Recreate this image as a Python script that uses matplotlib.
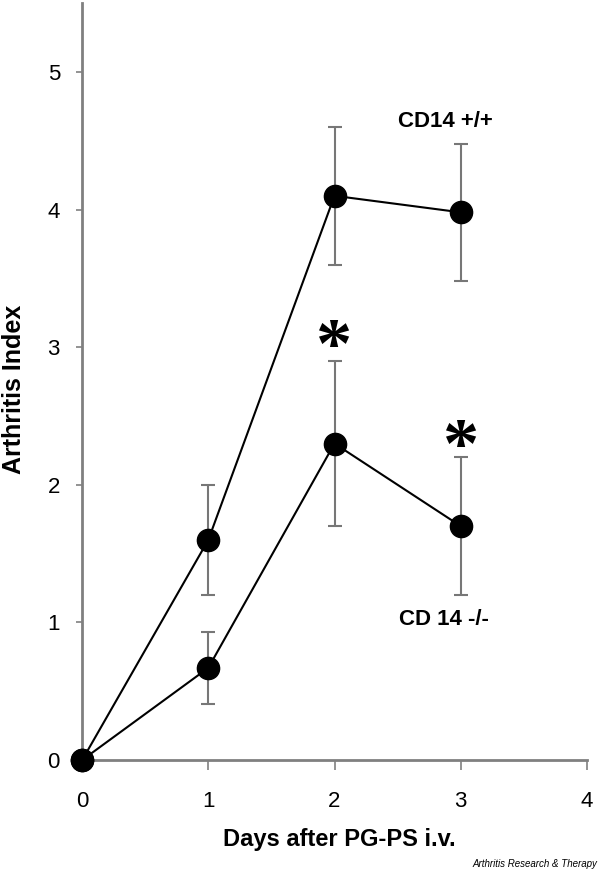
import matplotlib
matplotlib.use('Agg')
import matplotlib.pyplot as plt

plt.rcParams.update({
    'font.family': ['Liberation Sans', 'DejaVu Sans'],
})

days = [0, 1, 2, 3]
wt_mean = [0.0, 1.6, 4.1, 3.98]
wt_err = [0.0, 0.4, 0.5, 0.5]
ko_mean = [0.0, 0.67, 2.3, 1.7]
ko_err = [0.0, 0.26, 0.6, 0.5]

star_days = [2, 3]
star_y = [3.11, 2.38]

fig = plt.figure(figsize=(6, 8.74), dpi=100)
ax = fig.add_axes([0.137, 0.1304, 0.841, 0.866])

for mean, err in [(wt_mean, wt_err), (ko_mean, ko_err)]:
    ax.errorbar(days, mean, yerr=err, fmt='none', ecolor='#777777',
                elinewidth=1.5, capsize=5, capthick=1.5, clip_on=False, zorder=2)
    ax.plot(days, mean, color='black', lw=1.5, marker='o', markersize=16,
            markerfacecolor='black', clip_on=False, zorder=3)

# significance stars (glyph sits high in its box, so nudge down)
for d, y in zip(star_days, star_y):
    ax.annotate('*', xy=(d, y), xytext=(0, -17), textcoords='offset pixels',
                fontsize=52, family='Liberation Serif', fontweight='bold',
                ha='center', va='center')

ax.text(2.875, 4.64, 'CD14 +/+', fontsize=16, fontweight='bold', ha='center', va='center')
ax.text(2.87, 1.02, 'CD 14 -/-', fontsize=16, fontweight='bold', ha='center', va='center')

ax.set_xlim(0, 4)
ax.set_ylim(0, 5.5)
ax.set_xticks([0, 1, 2, 3, 4])
ax.set_yticks([0, 1, 2, 3, 4, 5])
ax.tick_params(axis='both', labelsize=16, color='#808080', width=1.2)
ax.tick_params(axis='y', length=4, pad=12)
ax.tick_params(axis='x', length=7, pad=15)

for side in ['top', 'right']:
    ax.spines[side].set_visible(False)
for side in ['left', 'bottom']:
    ax.spines[side].set_color('#808080')
    ax.spines[side].set_linewidth(2)

fig.text(0.024, 0.555, 'Arthritis Index', rotation=90, fontsize=18,
         fontweight='bold', ha='center', va='center')
fig.text(0.565, 0.039, 'Days after PG-PS i.v.', fontsize=17,
         fontweight='bold', ha='center', va='center')
fig.text(0.995, 0.011, 'Arthritis Research & Therapy', fontsize=7,
         style='italic', ha='right', va='center')

plt.savefig('out.png', dpi=100)
